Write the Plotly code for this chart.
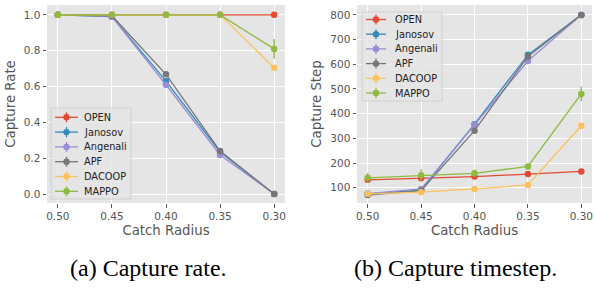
import plotly.graph_objects as go

W, H = 594, 288

radius = [0.50, 0.45, 0.40, 0.35, 0.30]
radius_labels = ["0.50", "0.45", "0.40", "0.35", "0.30"]
names = ["OPEN", "Janosov", "Angenali", "APF", "DACOOP", "MAPPO"]
colors = ["#E24A33", "#348ABD", "#988ED5", "#777777", "#FBC15E", "#8EBA42"]

rate_open = [1.0, 1.0, 1.0, 1.0, 1.0]
rate_janosov = [1.0, 0.99, 0.63, 0.235, 0.0]
rate_angenali = [1.0, 0.99, 0.61, 0.218, 0.0]
rate_apf = [1.0, 0.995, 0.668, 0.24, 0.0]
rate_dacoop = [1.0, 1.0, 1.0, 1.0, 0.705]
rate_mappo = [1.0, 1.0, 1.0, 1.0, 0.81]
rate_err_open = [0, 0, 0, 0, 0]
rate_err_janosov = [0, 0.005, 0.01, 0.01, 0]
rate_err_angenali = [0, 0.005, 0.01, 0.01, 0]
rate_err_apf = [0, 0.005, 0.015, 0.01, 0]
rate_err_dacoop = [0, 0, 0, 0, 0.01]
rate_err_mappo = [0, 0, 0, 0, 0.055]

step_open = [132, 138, 145, 155, 166]
step_janosov = [75, 90, 357, 638, 800]
step_angenali = [76, 95, 355, 613, 800]
step_apf = [70, 88, 331, 631, 800]
step_dacoop = [75, 82, 95, 111, 351]
step_mappo = [140, 150, 158, 186, 480]
step_err_open = [8, 8, 8, 6, 6]
step_err_janosov = [4, 6, 10, 10, 0]
step_err_angenali = [4, 6, 10, 10, 0]
step_err_apf = [4, 6, 10, 10, 0]
step_err_dacoop = [4, 4, 5, 6, 8]
step_err_mappo = [20, 25, 15, 8, 30]

rates = [rate_open, rate_janosov, rate_angenali, rate_apf, rate_dacoop, rate_mappo]
rate_errs = [rate_err_open, rate_err_janosov, rate_err_angenali, rate_err_apf, rate_err_dacoop, rate_err_mappo]
steps = [step_open, step_janosov, step_angenali, step_apf, step_dacoop, step_mappo]
step_errs = [step_err_open, step_err_janosov, step_err_angenali, step_err_apf, step_err_dacoop, step_err_mappo]

fig = go.Figure()

for i, n in enumerate(names):
    fig.add_trace(go.Scatter(
        x=radius, y=rates[i], name=n, mode="lines+markers", showlegend=False,
        line=dict(color=colors[i], width=1.3),
        marker=dict(color=colors[i], size=6.5),
        error_y=dict(type="data", array=rate_errs[i], color=colors[i], thickness=1.3, width=0),
        xaxis="x", yaxis="y"))
for i, n in enumerate(names):
    fig.add_trace(go.Scatter(
        x=radius, y=steps[i], name=n, mode="lines+markers", showlegend=False,
        line=dict(color=colors[i], width=1.3),
        marker=dict(color=colors[i], size=6.5),
        error_y=dict(type="data", array=step_errs[i], color=colors[i], thickness=1.3, width=0),
        xaxis="x2", yaxis="y2"))

def px(x):
    return x / W

def py(y):
    return 1 - y / H

tickfont = dict(family="DejaVu Sans", size=10.5, color="#555555")
titlefont = dict(family="DejaVu Sans", size=13.3, color="#555555")

common_x = dict(range=[0.51, 0.29], tickvals=radius, ticktext=radius_labels,
                showgrid=True, gridcolor="white", gridwidth=1, zeroline=False,
                ticks="outside", ticklen=3.5, tickcolor="#555555", tickwidth=1,
                tickfont=tickfont, showline=False, automargin=False)
common_y = dict(showgrid=True, gridcolor="white", gridwidth=1, zeroline=False,
                ticks="outside", ticklen=3.5, tickcolor="#555555", tickfont=tickfont,
                automargin=False)
ydom = [py(203), py(5)]

fig.update_layout(
    width=W, height=H, margin=dict(l=0, r=0, t=0, b=0, autoexpand=False),
    paper_bgcolor="white", plot_bgcolor="#E5E5E5",
    xaxis=dict(common_x, domain=[px(47), px(285)], anchor="y",
               title=dict(text="Catch Radius", font=titlefont, standoff=4)),
    yaxis=dict(common_y, domain=ydom, range=[-0.05, 1.055], tickvals=[0, 0.2, 0.4, 0.6, 0.8, 1.0],
               ticktext=["0.0", "0.2", "0.4", "0.6", "0.8", "1.0"],
               title=dict(text="Capture Rate", font=titlefont, standoff=5), anchor="x"),
    xaxis2=dict(common_x, domain=[px(357), px(592)], anchor="y2",
                title=dict(text="Catch Radius", font=titlefont, standoff=4)),
    yaxis2=dict(common_y, domain=ydom, range=[38, 840], tickvals=[100, 200, 300, 400, 500, 600, 700, 800],
                title=dict(text="Capture Step", font=titlefont, standoff=5), anchor="x2"),
)

shapes = []
annotations = []

def add_legend(x0, y0, x1, y1, first_y, spacing, line_x0, line_x1, text_x):
    shapes.append(dict(type="rect", xref="paper", yref="paper",
                       x0=px(x0), x1=px(x1), y0=py(y1), y1=py(y0),
                       fillcolor="rgba(229,229,229,0.85)", line=dict(color="#d0d0d0", width=1)))
    for i, n in enumerate(names):
        yy = first_y + i * spacing
        mx = (line_x0 + line_x1) / 2
        shapes.append(dict(type="line", xref="paper", yref="paper",
                           x0=px(line_x0), x1=px(line_x1), y0=py(yy), y1=py(yy),
                           line=dict(color=colors[i], width=1.3)))
        shapes.append(dict(type="line", xref="paper", yref="paper",
                           x0=px(mx), x1=px(mx), y0=py(yy - 5), y1=py(yy + 5),
                           line=dict(color=colors[i], width=1.3)))
        shapes.append(dict(type="circle", xref="paper", yref="paper",
                           x0=px(mx - 3.2), x1=px(mx + 3.2), y0=py(yy + 3.2), y1=py(yy - 3.2),
                           fillcolor=colors[i], line=dict(color=colors[i], width=0)))
        annotations.append(dict(text=n, xref="paper", yref="paper", x=px(text_x), y=py(yy),
                                xanchor="left", yanchor="middle", showarrow=False,
                                font=dict(family="DejaVu Sans", size=9.8, color="#222222")))

add_legend(51, 108, 131, 199, 117.3, 14.8, 55, 78, 82)
add_legend(362, 12, 442, 101, 19.5, 14.7, 366, 386, 393)

annotations.append(dict(text="(a) Capture rate.", xref="paper", yref="paper",
                        x=px(148), y=py(268), xanchor="center", yanchor="middle", showarrow=False,
                        font=dict(family="Liberation Serif", size=24, color="black")))
annotations.append(dict(text="(b) Capture timestep.", xref="paper", yref="paper",
                        x=px(456), y=py(268), xanchor="center", yanchor="middle", showarrow=False,
                        font=dict(family="Liberation Serif", size=24, color="black")))

fig.update_layout(shapes=shapes, annotations=annotations)
fig.write_html("out.html", config={"displayModeBar": False, "staticPlot": True},
               post_script="document.body.style.margin='0';document.body.style.overflow='hidden';")
